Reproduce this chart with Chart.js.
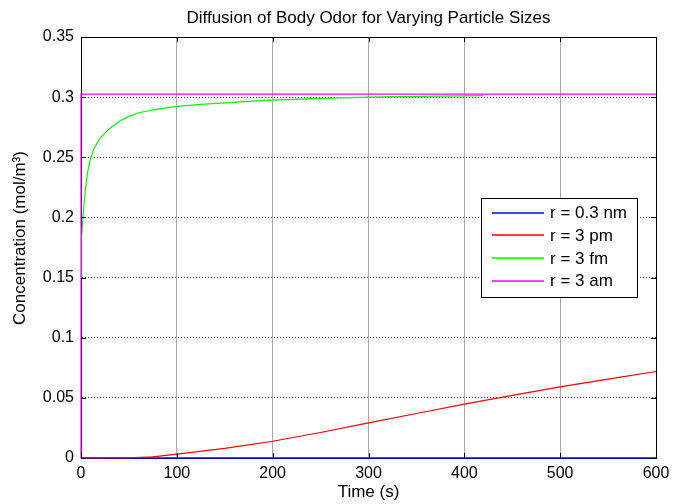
<!DOCTYPE html>
<html>
<head>
<meta charset="utf-8">
<script src="https://cdn.jsdelivr.net/npm/chart.js@4"></script>
<style>
  html, body { margin: 0; padding: 0; background: #fff; }
  #wrap { width: 684px; height: 504px; }
</style>
</head>
<body>
<div id="wrap"><canvas id="odor-chart" width="684" height="504"></canvas></div>
<script>
// data
var seriesNames = ['r = 0.3 nm', 'r = 3 pm', 'r = 3 fm', 'r = 3 am'];
var seriesColors = ['#0000ff', '#ff0000', '#00ff00', '#ff00ff'];

var nmTime = [0, 600];
var nmConc = [0, 0];

var pmTime = [0, 50, 75, 100, 150, 200, 250, 300, 350, 400, 450, 500, 550, 600];
var pmConc = [0, 0.0002, 0.0009, 0.0033, 0.0080, 0.0139, 0.0212, 0.0292, 0.0370, 0.0448, 0.0520, 0.0592, 0.0655, 0.0719];

var fmTime = [0, 0.5, 1, 2, 3, 5, 7, 10, 14, 20, 30, 40, 50, 60, 80, 100, 125, 150, 175, 200, 250, 300, 350, 420];
var fmConc = [0.150, 0.172, 0.185, 0.200, 0.210, 0.226, 0.238, 0.249, 0.258, 0.266, 0.274, 0.280, 0.284, 0.287, 0.290, 0.2923, 0.2940, 0.2953, 0.2965, 0.2975, 0.2990, 0.3000, 0.3006, 0.3012];

var amTime = [0, 0, 600];
var amConc = [0, 0.3025, 0.3025];

var xTickLabels = ['0', '100', '200', '300', '400', '500', '600'];
var yTickLabels = ['0', '0.05', '0.1', '0.15', '0.2', '0.25', '0.3', '0.35'];

var FONT = '"Liberation Sans", Arial, Helvetica, sans-serif';

function toPoints(t, c) {
    return t.map(function (v, i) { return { x: v, y: c[i] }; });
}

var allTimes = [nmTime, pmTime, fmTime, amTime];
var allConc = [nmConc, pmConc, fmConc, amConc];

var datasets = seriesNames.map(function (name, i) {
    return {
        label: name,
        data: toPoints(allTimes[i], allConc[i]),
        borderColor: seriesColors[i],
        backgroundColor: seriesColors[i],
        borderWidth: i === 0 ? 1.5 : 1.2,
        pointRadius: 0,
        tension: 0,
        fill: false,
        clip: false,
        order: 4 - i
    };
});

// matlab-ish frame: box, inward ticks, title, axis labels, legend
var matlabFrame = {
    id: 'matlabFrame',
    afterDatasetsDraw: function (chart) {
        var ctx = chart.ctx;
        var a = chart.chartArea;
        var xs = chart.scales.x, ys = chart.scales.y;
        ctx.save();
        ctx.setLineDash([]);
        ctx.strokeStyle = '#000';
        ctx.lineWidth = 1;
        ctx.beginPath();
        ctx.moveTo(a.left, a.top + 0.5);
        ctx.lineTo(a.right + 0.5, a.top + 0.5);
        ctx.lineTo(a.right + 0.5, a.bottom);
        ctx.stroke();

        var tl = 5;
        ctx.beginPath();
        xs.ticks.forEach(function (t) {
            var px = Math.round(xs.getPixelForValue(t.value)) + 0.5;
            ctx.moveTo(px, a.bottom); ctx.lineTo(px, a.bottom - tl);
            ctx.moveTo(px, a.top); ctx.lineTo(px, a.top + tl);
        });
        ys.ticks.forEach(function (t) {
            var py = Math.round(ys.getPixelForValue(t.value)) + 0.5;
            ctx.moveTo(a.left, py); ctx.lineTo(a.left + tl, py);
            ctx.moveTo(a.right, py); ctx.lineTo(a.right - tl, py);
        });
        ctx.stroke();

        // title
        ctx.fillStyle = '#000';
        ctx.font = '17px ' + FONT;
        ctx.textAlign = 'center';
        ctx.textBaseline = 'middle';
        ctx.fillText('Diffusion of Body Odor for Varying Particle Sizes', (a.left + a.right) / 2, 18);

        // x label
        ctx.fillText('Time (s)', (a.left + a.right) / 2, 492);

        // y label
        ctx.save();
        ctx.translate(20, 238);
        ctx.rotate(-Math.PI / 2);
        ctx.fillText('Concentration (mol/m\u00b3)', 0, 0);
        ctx.restore();

        // legend box
        var lx = 481, ly = 198, lw = 156, lh = 99;
        ctx.fillStyle = '#fff';
        ctx.fillRect(lx, ly, lw, lh);
        ctx.strokeStyle = '#000';
        ctx.strokeRect(lx + 0.5, ly + 0.5, lw, lh);
        ctx.textAlign = 'left';
        seriesNames.forEach(function (name, i) {
            var yy = 212.5 + i * 22.7;
            ctx.strokeStyle = seriesColors[i];
            ctx.lineWidth = 1.5;
            ctx.beginPath();
            ctx.moveTo(492, Math.round(yy));
            ctx.lineTo(544, Math.round(yy));
            ctx.stroke();
            ctx.fillStyle = '#000';
            ctx.fillText(name, 550, yy + 1);
        });
        ctx.restore();
    }
};

var ctx = document.getElementById('odor-chart').getContext('2d');
var odorChart = new Chart(ctx, {
    type: 'line',
    data: { datasets: datasets },
    options: {
        responsive: false,
        animation: false,
        layout: { padding: { left: 0, right: 28, top: 37, bottom: 0 } },
        plugins: {
            legend: { display: false },
            tooltip: { enabled: false }
        },
        scales: {
            x: {
                type: 'linear',
                min: 0,
                max: 600,
                afterFit: function (s) { s.height = 46; },
                ticks: {
                    stepSize: 100,
                    padding: 6,
                    color: '#000',
                    font: { family: FONT, size: 16 },
                    maxRotation: 0,
                    callback: function (v, i) { return xTickLabels[i]; }
                },
                grid: { color: '#a8a8a8', lineWidth: 1, drawTicks: false },
                border: { color: '#000', width: 1 }
            },
            y: {
                type: 'linear',
                min: 0,
                max: 0.35,
                afterFit: function (s) { s.width = 81; },
                ticks: {
                    stepSize: 0.05,
                    padding: 7,
                    color: '#000',
                    font: { family: FONT, size: 16 },
                    callback: function (v, i) { return yTickLabels[i]; }
                },
                grid: { color: '#444', lineWidth: 1, drawTicks: false },
                border: { color: '#000', width: 1, dash: [1, 2] }
            }
        }
    },
    plugins: [matlabFrame]
});
</script>
</body>
</html>
